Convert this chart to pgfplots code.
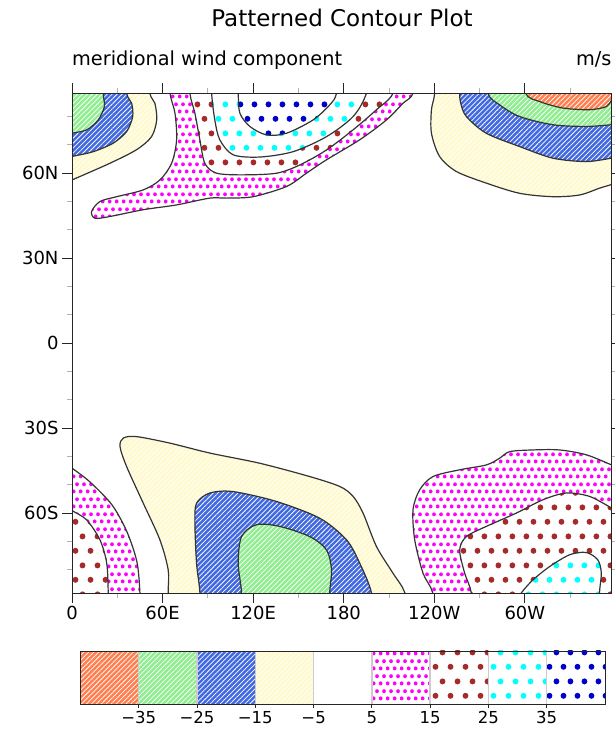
\documentclass[border=0pt]{standalone}
\usepackage{fontspec}
\setmainfont{DejaVu Sans}
\usepackage{pgfplots}
\pgfplotsset{compat=1.18}
\usetikzlibrary{patterns,patterns.meta}

% fill colours of the contour levels
\definecolor{hcoral}{HTML}{FF7F50}
\definecolor{hgreen}{HTML}{90EE90}
\definecolor{hblue}{HTML}{4169E1}
\definecolor{hyellow}{HTML}{FFFACD}
\definecolor{dmag}{HTML}{FF00FF}
\definecolor{dbrown}{HTML}{A52A2A}
\definecolor{dcyan}{HTML}{00FFFF}
\definecolor{dblue}{HTML}{0000CD}

% staggered dot lattices (rows offset by half a step)
\tikzdeclarepattern{
  name=smalldots, type=uncolored,
  bounding box={(0,0) and (7.3pt,14.6pt)},
  tile size={(7.3pt,14.6pt)},
  code={\fill (1.825pt,3.65pt) circle (2.05pt);
        \fill (5.475pt,10.95pt) circle (2.05pt);}
}
\tikzdeclarepattern{
  name=bigdots, type=uncolored,
  bounding box={(0,0) and (14.4pt,28.8pt)},
  tile size={(14.4pt,28.8pt)},
  code={\fill (3.6pt,7.2pt) circle (3pt);
        \fill (10.8pt,21.6pt) circle (3pt);}
}

\tikzset{
  hatchbox/.style={fill=#1, draw=none,
    postaction={pattern={Lines[angle=45,distance=3.5pt,line width=0.75pt]}, pattern color=white}},
  sdotbox/.style={fill=white, draw=none, postaction={pattern=smalldots, pattern color=#1}},
  ldotbox/.style={fill=white, draw=none, postaction={pattern=bigdots, pattern color=#1}},
}
% filled contour bands: pattern fill first, outline drawn by a second plot
\newcommand\band[2]{%
  \addplot[#1, smooth] coordinates {#2} --cycle;
  \addplot[draw=black!80, line width=1.2pt, fill=none, smooth] coordinates {#2} --cycle;
}

\begin{document}
\begin{tikzpicture}
\useasboundingbox (0,0) rectangle (615pt,731pt);

\node[anchor=base, font=\fontsize{23}{26}\selectfont] at (342pt,704pt) {Patterned Contour Plot};
\node[anchor=base west, inner sep=0pt, font=\fontsize{19.3}{22}\selectfont] at (72pt,665pt) {meridional wind component};
\node[anchor=base east, inner sep=0pt, font=\fontsize{19.3}{22}\selectfont] at (611.7pt,665pt) {m/s};

\begin{axis}[
  at={(72pt,138pt)}, anchor=south west,
  width=539.7pt, height=499.7pt, scale only axis,
  xmin=0, xmax=357.5, ymin=-88.2, ymax=88.2,
  axis on top, no markers,
  tick align=outside,
  major tick length=10pt, minor tick length=5pt,
  xtick={0,60,120,180,240,300}, xticklabels={0,60E,120E,180,120W,60W},
  ytick={-60,-30,0,30,60}, yticklabels={60S,30S,0,30N,60N},
  minor xtick={30,90,150,210,270,330},
  minor ytick={-80,-70,-50,-40,-20,-10,10,20,40,50,70,80},
  major tick style={black!85, line width=0.9pt},
  minor tick style={black!30, line width=0.9pt},
  axis line style={black!85, line width=0.9pt},
  ticklabel style={font=\fontsize{18}{20}\selectfont},
  /pgf/number format/assume math mode=true,
]
% ---- negative lobe, north-west
\band{hatchbox=hyellow}{(-8,55.7)(0,57.6)(25.1,63.5)(42.8,68.3)(52.7,72.9)(56.1,78.8)(54.9,84.7)(51.6,88.2)(49.5,100)(-8,100)}
\band{hatchbox=hblue}{(-8,64.9)(0,65.9)(14.1,67.6)(27.3,70.6)(36.2,74.7)(40.2,80.0)(39.5,84.7)(36.2,88.2)(34,100)(-8,100)}
\band{hatchbox=hgreen}{(-8,73.1)(0,74.1)(9.7,75.3)(17.4,78.8)(21.4,83.5)(20.7,88.2)(20,100)(-8,100)}

% ---- positive lobe, north
\band{sdotbox=dmag}{(63.5,100)(64.9,88.2)(68.2,81.2)(69.3,71.8)(66.0,63.5)(58.2,57.6)(47.2,54.1)(29.6,51.7)(18.5,50.0)(13.0,46.5)(15.2,44.1)(25.1,44.7)(47.2,47.1)(69.3,48.8)(91.3,51.2)(102.4,51.2)(120.0,51.7)(142.1,55.3)(155.3,60.0)(168.5,64.7)(190.6,71.8)(208.3,78.8)(219.3,84.7)(225.9,88.2)(230,100)}
\band{ldotbox=dbrown}{(77.5,100)(78.1,88.2)(81.4,81.2)(84.7,71.8)(88.0,63.5)(95.8,60.0)(113.4,59.4)(135.5,60.0)(150.9,62.9)(168.6,68.2)(186.2,75.3)(201.7,82.4)(212.6,88.2)(217,100)}
\band{ldotbox=dcyan}{(92,100)(92.5,88.2)(94.6,78.8)(97.9,71.8)(106.7,66.5)(124.4,65.7)(146.5,67.6)(168.6,72.9)(186.2,80.0)(195.0,88.2)(198,100)}
\band{ldotbox=dblue}{(109.5,100)(110.1,88.2)(111.2,81.2)(117.8,76.5)(128.9,73.5)(142.1,74.1)(159.7,78.8)(170.7,84.1)(175.2,88.2)(177.5,100)}

% ---- negative lobe, north-east
\band{hatchbox=hyellow}{(240.5,100)(240.2,88.2)(238.1,82.4)(238.1,74.1)(243.5,65.9)(254.6,60.6)(274.4,56.5)(296.5,52.9)(318.5,51.7)(336.2,52.3)(349.4,54.7)(357.5,56.0)(366,57.4)(370,100)}
\band{hatchbox=hblue}{(256.8,100)(256.8,88.2)(257.5,84.7)(261.2,80.0)(274.4,74.1)(296.5,69.4)(318.5,65.3)(340.6,64.1)(357.5,65.3)(366,65.9)(370,100)}
\band{hatchbox=hgreen}{(274,100)(275.5,88.2)(283.3,84.1)(296.5,80.0)(318.5,77.1)(340.6,76.5)(357.5,77.1)(366,77.4)(370,100)}
\band{hatchbox=hcoral}{(298,100)(300.5,88.2)(309.7,85.3)(325.1,83.0)(342.8,82.4)(353.9,83.5)(357.5,85.9)(363,90)(370,100)}

% ---- positive lobe, south-west
\band{sdotbox=dmag}{(-8,-40.8)(0,-44.1)(11.9,-49.0)(26.5,-57.1)(36.4,-66.6)(43.0,-77.2)(45.0,-88.1)(45.5,-100)(-8,-100)}
\band{ldotbox=dbrown}{(-8,-56.4)(0,-59.1)(9.7,-62.4)(18.5,-69.4)(23.0,-77.7)(24.0,-88.2)(24.2,-100)(-8,-100)}

% ---- negative lobe, south
\band{hatchbox=hyellow}{(63.7,-100)(63.7,-88.0)(63.7,-80.0)(58.2,-69.4)(47.2,-56.5)(36.2,-43.6)(31.8,-36.5)(34.0,-33.5)(42.8,-33.0)(64.9,-35.3)(91.3,-38.8)(124.4,-42.4)(157.5,-47.1)(177.4,-50.6)(186.2,-54.1)(192.8,-60.0)(201.7,-71.8)(212.6,-81.2)(220.4,-88.0)(225,-100)}
\band{hatchbox=hblue}{(84.7,-100)(84.7,-88.0)(82.5,-77.7)(81.4,-63.5)(82.5,-56.5)(91.3,-52.9)(106.7,-52.4)(135.5,-55.9)(164.1,-61.8)(181.8,-69.4)(190.6,-77.7)(198.3,-88.0)(200,-100)}
\band{hatchbox=hgreen}{(112.3,-100)(112.3,-88.0)(110.1,-77.7)(112.3,-68.3)(122.2,-64.1)(137.7,-64.7)(157.5,-68.3)(168.6,-73.0)(171.9,-80.0)(170.7,-88.0)(170.5,-100)}

% ---- positive lobe, south-east
\band{sdotbox=dmag}{(240.5,-100)(238.9,-88.1)(232.5,-81.2)(227.0,-69.4)(225.9,-58.8)(230.3,-51.8)(239.1,-47.1)(256.8,-44.7)(274.4,-43.0)(283.3,-40.6)(289.9,-38.3)(305.3,-37.7)(322.9,-37.7)(340.6,-39.4)(357.5,-43.0)(366,-44.8)(370,-100)}
\band{ldotbox=dbrown}{(265,-100)(264.5,-88.2)(260.1,-81.2)(256.8,-73.0)(261.2,-68.3)(274.4,-64.7)(294.3,-60.0)(311.9,-55.3)(327.4,-52.9)(342.8,-54.1)(357.5,-58.2)(366,-60.5)(370,-100)}
\band{ldotbox=dcyan}{(288,-96)(297.6,-88.2)(305.3,-83.6)(316.3,-78.9)(329.6,-74.7)(340.6,-73.9)(348.3,-76.5)(350.6,-81.2)(349.4,-88.2)(349,-100)}
\end{axis}

% ---- colour bar
\begin{axis}[
  at={(80.5pt,27pt)}, anchor=south west,
  width=524.5pt, height=53pt, scale only axis,
  xmin=0, xmax=9, ymin=0, ymax=1,
  axis on top, no markers,
  xtick={1,2,3,4,5,6,7,8},
  xticklabels={−35,−25,−15,−5,5,15,25,35},
  ytick=\empty, xtick pos=left,
  tick align=outside, major tick length=4pt,
  major tick style={black!85, line width=0.9pt},
  axis line style={black!85, line width=0.9pt},
  ticklabel style={font=\fontsize{16.5}{19}\selectfont},
]
\addplot[hatchbox=hcoral]  coordinates {(0,0)(1,0)(1,1)(0,1)} --cycle;
\addplot[hatchbox=hgreen]  coordinates {(1,0)(2,0)(2,1)(1,1)} --cycle;
\addplot[hatchbox=hblue]   coordinates {(2,0)(3,0)(3,1)(2,1)} --cycle;
\addplot[hatchbox=hyellow] coordinates {(3,0)(4,0)(4,1)(3,1)} --cycle;
\addplot[fill=white, draw=none] coordinates {(4,0)(5,0)(5,1)(4,1)} --cycle;
\addplot[sdotbox=dmag]     coordinates {(5,0)(6,0)(6,1)(5,1)} --cycle;
\addplot[ldotbox=dbrown]   coordinates {(6,0)(7,0)(7,1)(6,1)} --cycle;
\addplot[ldotbox=dcyan]    coordinates {(7,0)(8,0)(8,1)(7,1)} --cycle;
\addplot[ldotbox=dblue]    coordinates {(8,0)(9,0)(9,1)(8,1)} --cycle;
\addplot[black!20, line width=1.4pt] coordinates {(1,0)(1,1)};
\addplot[black!20, line width=1.4pt] coordinates {(2,0)(2,1)};
\addplot[black!20, line width=1.4pt] coordinates {(3,0)(3,1)};
\addplot[black!20, line width=1.4pt] coordinates {(4,0)(4,1)};
\addplot[black!20, line width=1.4pt] coordinates {(5,0)(5,1)};
\addplot[black!20, line width=1.4pt] coordinates {(6,0)(6,1)};
\addplot[black!20, line width=1.4pt] coordinates {(7,0)(7,1)};
\addplot[black!20, line width=1.4pt] coordinates {(8,0)(8,1)};
\end{axis}
\end{tikzpicture}
\end{document}
